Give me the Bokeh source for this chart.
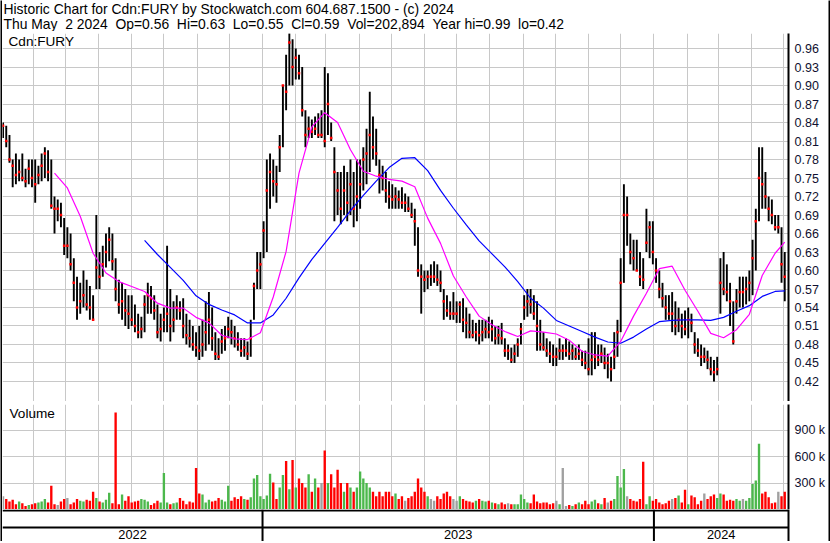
import numpy as np
import pandas as pd
from bokeh.plotting import figure
from bokeh.layouts import row, column
from bokeh.models import FixedTicker, Range1d, Label, Span, ColumnDataSource, NumeralTickFormatter, Grid
from bokeh.core.properties import value
from bokeh.embed import file_html
from bokeh.resources import INLINE

FONT = "Liberation Sans"
SP2 = " \u00a0"  # a double space that the SVG text keeps
TITLE = "Historic Chart for Cdn:FURY by Stockwatch.com 604.687.1500 - (c) 2024"
SUBTITLE = SP2.join(["Thu May", "2 2024", "Op=0.56", "Hi=0.63", "Lo=0.55", "Cl=0.59",
                     "Vol=202,894", "Year hi=0.99", "lo=0.42"])
SYMBOL = "Cdn:FURY"
VOL_LABEL = "Volume"

# bars sampled every 3 calendar days
first_date = "2022-05-04"
last_date = "2024-05-02"

high = [
    .84, .835, .82, .78, .79, .78, .79, .765, .78, .78,
    .78, .77, .79, .80, .795, .78, .72, .715, .71, .685,
    .67, .66, .62, .59, .58, .60, .585, .575, .56, .69,
    .63, .64, .66, .67, .66, .62, .585, .58, .57, .56,
    .56, .545, .53, .525, .56, .58, .575, .56, .545, .53,
    .54, .64, .57, .55, .56, .55, .555, .53, .52, .51,
    .50, .51, .52, .55, .565, .54, .50, .49, .505, .51,
    .525, .52, .51, .50, .49, .49, .485, .52, .58, .63,
    .63, .68, .78, .79, .78, .77, .82, .90, .95, .985,
    .975, .96, .95, .93, .86, .85, .845, .85, .855, .86,
    .93, .92, .84, .80, .76, .76, .77, .76, .78, .76,
    .78, .78, .80, .83, .89, .85, .83, .78, .77, .76,
    .745, .74, .735, .73, .735, .725, .72, .71, .70, .67,
    .61, .60, .60, .61, .615, .61, .60, .57, .56, .55,
    .565, .55, .55, .555, .54, .53, .52, .515, .52, .52,
    .52, .525, .52, .51, .51, .515, .49, .48, .475, .48,
    .49, .515, .56, .57, .57, .56, .55, .52, .50, .49,
    .485, .48, .475, .49, .48, .49, .485, .48, .475, .48,
    .47, .47, .49, .50, .50, .48, .48, .475, .465, .46,
    .50, .52, .62, .74, .72, .66, .65, .65, .63, .62,
    .70, .68, .68, .62, .60, .58, .56, .56, .565, .55,
    .54, .53, .535, .54, .53, .50, .49, .48, .475, .47,
    .46, .455, .46, .62, .63, .61, .58, .55, .57, .59,
    .59, .59, .60, .65, .70, .80, .80, .76, .72, .715,
    .69, .69, .67, .63,
]
low = [
    .815, .80, .775, .735, .74, .745, .745, .735, .74, .735,
    .71, .74, .745, .75, .745, .70, .66, .68, .67, .625,
    .62, .60, .55, .52, .53, .54, .535, .52, .52, .57,
    .57, .59, .605, .615, .60, .55, .53, .52, .51, .505,
    .51, .50, .49, .49, .50, .53, .53, .52, .49, .485,
    .50, .50, .485, .50, .52, .52, .49, .48, .475, .47,
    .46, .455, .46, .47, .48, .47, .455, .455, .465, .47,
    .49, .48, .475, .47, .46, .46, .455, .46, .52, .57,
    .57, .62, .63, .70, .72, .71, .76, .80, .86, .90,
    .90, .91, .91, .85, .80, .815, .815, .82, .815, .815,
    .80, .82, .81, .68, .69, .675, .69, .68, .69, .67,
    .68, .70, .73, .74, .76, .78, .77, .725, .73, .71,
    .70, .70, .70, .70, .70, .695, .695, .685, .64, .59,
    .53, .565, .57, .575, .58, .575, .565, .52, .525, .52,
    .52, .515, .515, .50, .49, .49, .49, .485, .48, .485,
    .49, .49, .485, .48, .48, .48, .46, .455, .45, .45,
    .46, .48, .52, .525, .53, .52, .47, .47, .47, .46,
    .45, .445, .445, .455, .455, .46, .455, .455, .455, .455,
    .445, .44, .43, .43, .44, .445, .45, .44, .425, .42,
    .44, .46, .50, .58, .64, .61, .60, .60, .575, .57,
    .63, .62, .61, .58, .555, .54, .52, .52, .50, .495,
    .50, .49, .495, .49, .50, .465, .46, .445, .45, .44,
    .43, .42, .43, .53, .56, .55, .51, .48, .53, .54,
    .54, .545, .55, .56, .60, .68, .70, .70, .68, .675,
    .665, .66, .58, .55,
]
close = [
    .835, .81, .78, .77, .755, .76, .75, .745, .765, .75,
    .74, .755, .77, .79, .76, .705, .70, .70, .69, .64,
    .64, .61, .58, .54, .55, .56, .545, .54, .52, .605,
    .59, .61, .63, .65, .615, .57, .545, .55, .535, .53,
    .52, .51, .50, .505, .545, .56, .555, .535, .50, .505,
    .52, .53, .51, .52, .54, .535, .51, .495, .49, .48,
    .475, .47, .48, .50, .52, .49, .465, .46, .485, .49,
    .505, .50, .49, .48, .47, .475, .465, .49, .575, .60,
    .61, .665, .73, .76, .745, .74, .80, .90, .89, .97,
    .93, .945, .92, .86, .82, .83, .825, .83, .82, .82,
    .81, .87, .815, .76, .73, .70, .73, .71, .74, .70,
    .72, .74, .78, .79, .82, .80, .79, .755, .75, .73,
    .72, .715, .72, .715, .71, .71, .70, .69, .68, .60,
    .59, .585, .59, .59, .59, .585, .58, .55, .535, .53,
    .53, .53, .545, .52, .515, .50, .495, .50, .495, .50,
    .505, .50, .505, .49, .495, .49, .47, .47, .455, .465,
    .48, .505, .54, .55, .545, .53, .51, .48, .475, .47,
    .465, .46, .46, .47, .47, .47, .465, .47, .46, .465,
    .455, .45, .44, .455, .46, .455, .465, .45, .45, .44,
    .46, .50, .58, .69, .69, .63, .62, .60, .59, .585,
    .645, .67, .63, .60, .57, .555, .54, .53, .53, .51,
    .52, .51, .505, .52, .515, .48, .47, .46, .46, .455,
    .44, .435, .44, .58, .57, .565, .55, .485, .55, .565,
    .565, .57, .58, .62, .68, .75, .74, .72, .70, .69,
    .67, .67, .61, .59,
]
volume_k = [
    150, 120, 90, 110, 60, 90, 70, 40, 50, 60,
    70, 80, 90, 120, 80, 270, 60, 50, 90, 120,
    130, 60, 80, 120, 100, 90, 110, 100, 200, 130,
    90, 80, 110, 190, 70, 1100, 60, 170, 100, 150,
    80, 90, 100, 120, 110, 90, 50, 70, 100, 80,
    415, 80, 60, 70, 80, 130, 100, 60, 90, 80,
    470, 180, 170, 80, 110, 90, 100, 130, 110, 90,
    270, 100, 140, 120, 150, 120, 110, 140, 350, 390,
    150, 120, 160, 405, 305, 120, 250, 390, 550, 230,
    560, 250, 350, 300, 250, 400, 200, 350, 250, 300,
    670, 300, 400, 250, 450, 300, 200, 300, 250, 200,
    250, 430, 350, 300, 250, 200, 150, 200, 150, 200,
    200, 150, 180, 120, 150, 100, 130, 150, 200, 350,
    250, 200, 150, 120, 100, 150, 120, 180, 200, 150,
    120, 100, 150, 120, 100, 90, 80, 100, 120, 100,
    90, 100, 80, 70, 60, 80, 60, 70, 60, 60,
    60, 170, 120, 80, 70, 170, 90, 70, 80, 80,
    60, 70, 100, 60, 470, 40, 50, 40, 60, 80,
    60, 100, 60, 90, 110, 70, 60, 130, 80, 100,
    120, 380, 250, 460, 150, 120, 100, 90, 120, 540,
    60, 150, 100, 120, 80, 60, 70, 100, 120, 130,
    160, 80, 225, 60, 160, 140, 60, 100, 180, 120,
    150, 170, 130, 180, 170, 100, 110, 100, 120, 100,
    120, 100, 130, 290, 330, 745, 180, 200, 140, 70,
    80, 200, 150, 200,
]
# moving averages read every 4th bar (plus the last bar)
ma_fast = [
    None, None, None, None, .758, .734, .688, .628, .596, .582,
    .574, .566, .547, .539, .539, .524, .515, .495, .489, .488,
    .499, .557, .631, .758, .833, .856, .840, .796, .761, .753,
    .748, .745, .736, .685, .644, .591, .557, .526, .512, .501,
    .493, .502, .500, .497, .487, .469, .463, .461, .485, .526,
    .563, .603, .607, .568, .534, .498, .491, .504, .529, .592,
    .628, .646,
]
ma_slow = [
    None, None, None, None, None, None, None, None, None, None,
    None, .649, .626, .605, .584, .559, .545, .536, .528, .515,
    .515, .528, .555, .588, .618, .644, .670, .697, .722, .745,
    .767, .782, .783, .762, .730, .701, .674, .648, .627, .606,
    .582, .555, .539, .519, .510, .501, .492, .484, .482, .492,
    .505, .517, .519, .520, .520, .519, .524, .534, .543, .558,
    .566, .567,
]
price_ticks = [0.42, 0.45, 0.48, 0.51, 0.54, 0.57, 0.60, 0.63, 0.66, 0.69,
               0.72, 0.75, 0.78, 0.81, 0.84, 0.87, 0.90, 0.93, 0.96]
vol_ticks = [300000, 600000, 900000]
vol_tick_labels = ["300 k", "600 k", "900 k"]
years = ["2022", "2023", "2024"]
year_starts = ["2022-01-01", "2023-01-01", "2024-01-01", "2025-01-01"]
view_start = "2022-05-03 12:00"
view_end = "2024-05-05 12:00"

BLACK = "#000000"
GRIDC = "#c8c8c8"
RED = "#ff0000"
GREEN = "#4cb84c"
GREY = "#a0a0a0"
MAGENTA = "#ff00ff"
BLUE = "#0000ff"

dates = pd.date_range(first_date, last_date, freq="3D")
ma_idx = list(range(0, len(dates), 4)) + [len(dates) - 1]
ma_dates = dates[ma_idx]

vcol = []
for i, c in enumerate(close):
    if i == 0 or c == close[i - 1]:
        vcol.append(GREY)
    elif c > close[i - 1]:
        vcol.append(GREEN)
    else:
        vcol.append(RED)

src = ColumnDataSource(dict(date=dates, high=high, low=low, close=close,
                            vol=[v * 1000 for v in volume_k], vcol=vcol))
ma_src = ColumnDataSource(dict(date=ma_dates, fast=np.array(ma_fast, dtype=float),
                               slow=np.array(ma_slow, dtype=float)))

def ms(t):
    return pd.Timestamp(t).timestamp() * 1000.0

xr = Range1d(ms(view_start), ms(view_end))
month_ms = [ms(t) for t in pd.date_range("2022-05-01", view_end, freq="MS")]

W_MID = 826
R_BORDER = 40

def panel(height, yr, ticks):
    p = figure(width=W_MID, height=height, x_range=xr, y_range=yr, x_axis_type="datetime",
               x_axis_location=None, y_axis_location="right", toolbar_location=None,
               output_backend="svg", min_border_left=0, min_border_right=R_BORDER,
               min_border_top=0, min_border_bottom=0, outline_line_color=None,
               background_fill_color="white", border_fill_color="white")
    ax = p.yaxis[0]
    ax.ticker = FixedTicker(ticks=ticks)
    ax.axis_line_width = 2
    ax.axis_line_color = BLACK
    ax.major_tick_line_color = None
    ax.minor_tick_line_color = None
    ax.major_tick_out = 0
    ax.major_tick_in = 0
    ax.major_label_text_font = FONT
    ax.major_label_text_font_size = "12.5px"
    ax.major_label_text_color = "#101030"
    ax.major_label_standoff = 6
    p.ygrid.grid_line_color = GRIDC if ticks else None
    grids = list(p.xgrid)
    if grids:
        for g in grids:
            g.ticker = FixedTicker(ticks=month_ms)
            g.grid_line_color = GRIDC
    else:
        p.add_layout(Grid(dimension=0, ticker=FixedTicker(ticks=month_ms), grid_line_color=GRIDC))
    return p

def strip(w, h):
    s = figure(width=w, height=h, toolbar_location=None, output_backend="svg",
               x_axis_location=None, y_axis_location=None, min_border_left=0,
               min_border_right=0, min_border_top=0, min_border_bottom=0,
               outline_line_color=None, background_fill_color=BLACK,
               border_fill_color=BLACK)
    s.grid.visible = False
    return s

# header
head = figure(width=W_MID, height=31, x_range=(0, W_MID - R_BORDER), y_range=(0, 31),
              toolbar_location=None, output_backend="svg", x_axis_location=None,
              y_axis_location=None, min_border_left=0, min_border_right=R_BORDER,
              min_border_top=0, min_border_bottom=0, outline_line_color=None,
              background_fill_color="white", border_fill_color="white")
head.grid.visible = False
head.text(x=[1, 1], y=[22.3, 7.3], text=[TITLE, SUBTITLE], text_font=value(FONT),
          text_font_size="13.9px", text_color=BLACK, text_baseline="alphabetic")

# price panel
pp = panel(368, Range1d(0.3875, 0.9845), price_ticks)
pp.yaxis[0].formatter = NumeralTickFormatter(format="0.00")
pp.segment(x0="date", y0="low", x1="date", y1="high", source=src, line_color=BLACK, line_width=1.9)
pp.rect(x="date", y="close", width=2.5, height=2.5, width_units="screen", height_units="screen",
        source=src, fill_color=RED, line_color=None)
pp.line(x="date", y="slow", source=ma_src, line_color=BLUE, line_width=1.2)
pp.line(x="date", y="fast", source=ma_src, line_color=MAGENTA, line_width=1.2)
pp.add_layout(Label(x=xr.start, y=0.9845, x_offset=6, y_offset=0, text=SYMBOL,
                    text_font=FONT, text_font_size="13.6px", text_baseline="top", text_color=BLACK))

# double separator
sep = panel(3, Range1d(0, 3), [])
sep.add_layout(Span(location=2.5, dimension="width", line_color=BLACK, line_width=1))
sep.add_layout(Span(location=0.5, dimension="width", line_color=BLACK, line_width=1))
for g in sep.xgrid:
    g.visible = False

# volume panel
vp = panel(105, Range1d(0, 1.19e6), vol_ticks)
vp.yaxis[0].major_label_overrides = {t: l for t, l in zip(vol_ticks, vol_tick_labels)}
vp.vbar(x="date", top="vol", bottom=0, width=2.2 * 86400000, source=src,
        fill_color="vcol", line_color=None)
vp.add_layout(Label(x=xr.start, y=1.19e6, x_offset=7, y_offset=-1, text=VOL_LABEL,
                    text_font=FONT, text_font_size="13.6px", text_baseline="top", text_color=BLACK))

# bottom date band
bt = panel(32, Range1d(0, 32), [])
for g in bt.xgrid:
    g.visible = False
bt.add_layout(Span(location=31, dimension="width", line_color=BLACK, line_width=2))
bt.add_layout(Span(location=14, dimension="width", line_color=BLACK, line_width=2))
for ys in year_starts[1:3]:
    bt.add_layout(Span(location=ms(ys), dimension="height", line_color=BLACK, line_width=2))
lab_x = []
for i in range(3):
    a = max(ms(year_starts[i]), xr.start)
    b = min(ms(year_starts[i + 1]), xr.end)
    lab_x.append((a + b) / 2)
bt.text(x=lab_x, y=[6.6, 6.6, 6.6], text=years, text_font=value(FONT), text_font_size="12.8px",
        text_align="center", text_baseline="middle", text_color=BLACK)

mid = column(head, strip(W_MID, 2), pp, sep, vp, bt, spacing=0)
layout = column(row(strip(2, 541), mid, strip(2, 541), spacing=0), strip(830, 2), spacing=0)

open("out.html", "w").write(file_html(layout, INLINE))
